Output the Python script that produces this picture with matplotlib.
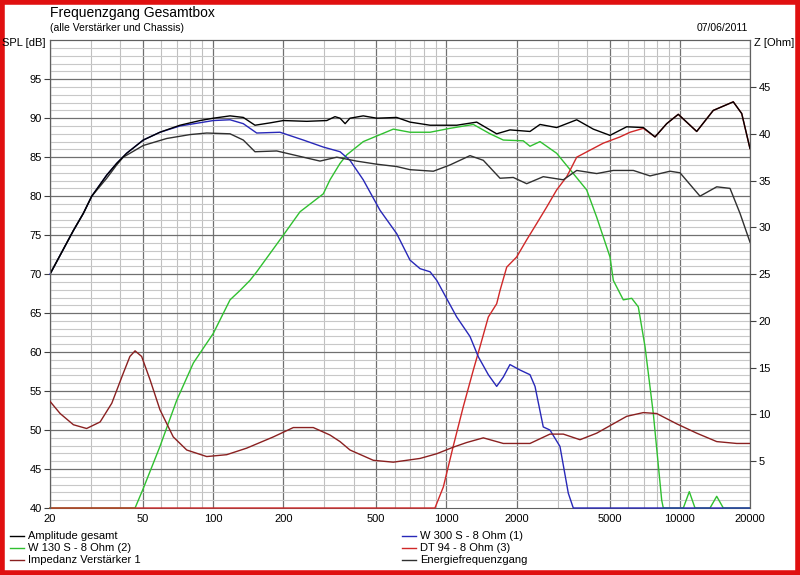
import matplotlib
matplotlib.use('Agg')
import matplotlib.pyplot as plt
import numpy as np
from matplotlib.patches import Rectangle
from matplotlib.lines import Line2D

plt.rcParams['font.family'] = ['Liberation Sans Narrow', 'Liberation Sans', 'DejaVu Sans']

# Amplitude gesamt (SPL dB)
f_amp = [20, 25.2, 27.8, 30.2, 35.0, 38.6, 42.6, 50.2, 59.2, 72.1, 87.9, 100.2, 118.2, 134.7, 151.2, 175.4,
         200, 252, 307, 333, 350, 368, 386, 440, 503, 612, 698, 851, 1107, 1348, 1642, 1872,
         2281, 2518, 2968, 3617, 4260, 5024, 5924, 6979, 7834, 8790, 9855, 11820, 13920,
         16960, 18430, 20000]
v_amp = [70.0, 75.6, 77.8, 80.0, 82.7, 84.2, 85.5, 87.2, 88.2, 89.1, 89.7, 90.0, 90.3, 90.1, 89.1, 89.4,
         89.7, 89.6, 89.7, 90.2, 90.0, 89.3, 90.0, 90.3, 90.0, 90.1, 89.5, 89.1, 89.1, 89.5, 88.0, 88.5,
         88.3, 89.2, 88.8, 89.8, 88.6, 87.8, 88.9, 88.8, 87.6, 89.3, 90.5, 88.3, 91.0,
         92.1, 90.6, 86.1]

# Energiefrequenzgang
f_energy = [20, 25.2, 27.8, 30.2, 35.0, 38.6, 41.2, 50.2, 63.3, 79.6, 93.9, 118.2, 134.7, 151.2, 187.4, 228.2,
            287.2, 338.8, 412, 503, 612, 698, 879, 1035, 1262, 1439, 1697, 1934, 2208, 2600, 3169,
            3617, 4406, 5191, 6324, 7456, 9082, 10024, 12210, 14400, 16420, 18120, 20000]
v_energy = [70.0, 75.6, 77.8, 80.0, 82.3, 84.0, 85.0, 86.5, 87.4, 87.9, 88.1, 88.0, 87.2, 85.7, 85.8, 85.2,
            84.5, 85.0, 84.5, 84.1, 83.8, 83.4, 83.2, 84.0, 85.2, 84.6, 82.3, 82.4, 81.6, 82.5, 82.1,
            83.3, 82.9, 83.3, 83.3, 82.6, 83.2, 83.0, 80.0, 81.2, 81.0, 77.8, 74.1]

# W 300 S - 8 Ohm (1)
f_w300 = [20, 25.2, 27.8, 30.2, 35.0, 38.6, 42.6, 50.2, 59.2, 72.1, 100.2, 118.2, 134.7, 153.8, 193.5, 243.6,
          296.7, 350, 386, 440, 519, 612, 698, 771, 851, 909, 1107, 1262, 1370, 1512, 1642, 1753,
          1872, 2067, 2281, 2397, 2600, 2778, 3066, 3329, 3497, 20000]
v_w300 = [70.0, 75.6, 77.8, 80.0, 82.7, 84.2, 85.5, 87.2, 88.2, 89.0, 89.7, 89.8, 89.3, 88.1, 88.2, 87.2,
          86.3, 85.7, 84.6, 82.1, 78.2, 75.2, 71.8, 70.7, 70.3, 69.2, 64.5, 62.0, 59.4, 57.1, 55.6, 56.8,
          58.4, 57.7, 57.1, 55.6, 50.4, 50.0, 47.9, 41.9, 40.0, 40.0]

# W 130 S - 8 Ohm (2)
f_w130 = [20, 46.3, 50.2, 59.2, 69.8, 82.3, 100.2, 118.2, 130.4, 143.9, 153.8, 200, 235.8, 296.7,
          317, 349.9, 373.9, 440.2, 592, 698, 851, 1035, 1304, 1538, 1753, 2135, 2281, 2518, 2968,
          3497, 3991, 4406, 5024, 5191, 5728, 6224, 6643, 7098, 7704, 8368, 8501, 10357, 10988,
          11623, 13480, 14400, 15370, 20000]
v_w130 = [40, 40, 42.5, 47.9, 53.8, 58.6, 62.4, 66.7, 67.9, 69.2, 70.3, 75.0, 78.0, 80.3,
          82.1, 84.2, 85.3, 87.0, 88.6, 88.2, 88.2, 88.7, 89.2, 88.0, 87.2, 87.1, 86.4, 87.0, 85.5,
          82.9, 80.8, 77.3, 72.2, 69.2, 66.7, 66.9, 65.8, 60.7, 52.1, 41.0, 40, 40, 42.1,
          40, 40, 41.5, 40, 40]

# DT 94 - 8 Ohm (3)
f_dt94 = [20, 893, 970, 1069, 1181, 1304, 1393, 1512, 1642, 1697, 1813, 2000, 2208, 2438, 2689,
          2968, 3277, 3385, 3617, 4124, 4702, 5545, 6120, 6979, 7834, 8790, 9855, 11820, 13920,
          16960, 18430, 20000]
v_dt94 = [40, 40, 42.7, 47.9, 53.0, 57.7, 60.7, 64.5, 66.2, 67.9, 70.9, 72.2, 74.4, 76.5, 78.6,
          80.8, 82.5, 83.3, 85.0, 85.9, 86.8, 87.6, 88.2, 88.7, 87.6, 89.3, 90.5, 88.3, 91.0,
          92.1, 90.6, 86.1]

# Impedanz Verstaerker 1 (Ohm, right axis)
f_imp = [20, 22.1, 25.2, 28.7, 32.8, 36.8, 41.2, 44.0, 46.3, 49.4, 53.7, 59.2, 67.5, 77.1, 93.9, 114.4,
         139.3, 181.2, 220.7, 268.8, 317, 349.9, 386.1, 486.1, 592, 770.9, 908.6, 1069, 1221, 1439,
         1753, 2281, 2778, 3169, 3736, 4406, 5191, 5924, 6979, 7965, 9702, 11820, 14400, 17540, 20000]
v_imp = [11.4, 10.1, 8.9, 8.5, 9.2, 11.2, 14.4, 16.2, 16.8, 16.2, 13.7, 10.5, 7.6, 6.2, 5.5, 5.7,
         6.4, 7.6, 8.6, 8.6, 7.8, 7.1, 6.2, 5.1, 4.9, 5.3, 5.8, 6.5, 7.0, 7.5,
         6.9, 6.9, 7.9, 7.9, 7.3, 8.0, 9.0, 9.8, 10.2, 10.1, 9.0, 8.0, 7.1, 6.9, 6.9]

x_ticks = [20, 50, 100, 200, 500, 1000, 2000, 5000, 10000, 20000]

c_amp = '#000000'
c_energy = '#303030'
c_w300 = '#2828b8'
c_w130 = '#30c030'
c_dt94 = '#d02828'
c_imp = '#8a2020'

fig = plt.figure(figsize=(8, 5.75), dpi=100)
ax = fig.add_axes([0.0625, 0.1165, 0.875, 0.8135])
ax2 = ax.twinx()

# grid
minor_f = []
for dec in [10, 100, 1000, 10000]:
    for m in range(1, 10):
        v = dec * m
        if 20 <= v <= 20000:
            minor_f.append(v)
for v in minor_f:
    if v in x_ticks:
        ax.axvline(v, color='#707070', linewidth=0.9, zorder=0)
    else:
        ax.axvline(v, color='#c0c0c0', linewidth=0.8, zorder=0)
for v in range(41, 100):
    if v % 5 == 0:
        ax.axhline(v, color='#707070', linewidth=0.9, zorder=0)
    else:
        ax.axhline(v, color='#c8c8c8', linewidth=0.8, zorder=0)

for a in [ax, ax2]:
    for s in a.spines.values():
        s.set_color('#606060')
        s.set_linewidth(0.8)
        s.set_zorder(1)
ax2.spines['bottom'].set_visible(False)
ax2.patch.set_visible(False)

ax.plot(f_w130, v_w130, color=c_w130, linewidth=1, zorder=3, clip_on=False)
ax.plot(f_dt94, v_dt94, color=c_dt94, linewidth=1, zorder=3, clip_on=False)
ax.plot(f_w300, v_w300, color=c_w300, linewidth=1, zorder=4, clip_on=False)
ax.plot(f_energy, v_energy, color=c_energy, linewidth=1, zorder=5)
ax.plot(f_amp, v_amp, color=c_amp, linewidth=1, zorder=6)
ax2.plot(f_imp, v_imp, color=c_imp, linewidth=1)

ax.set_xscale('log')
ax.set_xlim(20, 20000)
ax.set_ylim(40, 100)
ax2.set_ylim(0, 50)
ax.set_xticks(x_ticks)
ax.set_xticklabels([str(t) for t in x_ticks])
ax.xaxis.set_minor_locator(matplotlib.ticker.NullLocator())
ax.set_yticks(np.arange(40, 96, 5))
ax2.set_yticks(np.arange(5, 46, 5))
ax.tick_params(axis='both', labelsize=8, length=4, color='#404040', pad=2)
ax.tick_params(axis='x', length=0, pad=4)
ax2.tick_params(axis='y', labelsize=8, length=4, color='#404040', pad=2)

fig.text(50 / 800, 1 - 13 / 575, 'Frequenzgang Gesamtbox', fontsize=10, va='center', ha='left')
fig.text(50 / 800, 1 - 28 / 575, '(alle Verstärker und Chassis)', fontsize=7.5, va='center', ha='left')
fig.text(748 / 800, 1 - 28 / 575, '07/06/2011', fontsize=7.5, va='center', ha='right')
fig.text(46 / 800, 1 - 43 / 575, 'SPL [dB]', fontsize=8, va='center', ha='right')
fig.text(754 / 800, 1 - 43 / 575, 'Z [Ohm]', fontsize=8, va='center', ha='left')

# legend
legend_items = [
    ('Amplitude gesamt', c_amp, 10, 536),
    ('W 130 S - 8 Ohm (2)', c_w130, 10, 548),
    ('Impedanz Verstärker 1', c_imp, 10, 560),
    ('W 300 S - 8 Ohm (1)', c_w300, 402, 536),
    ('DT 94 - 8 Ohm (3)', c_dt94, 402, 548),
    ('Energiefrequenzgang', c_energy, 402, 560),
]
for label, col, lx, ly in legend_items:
    yy = 1 - ly / 575
    fig.add_artist(Line2D([lx / 800, (lx + 14) / 800], [yy, yy], color=col, linewidth=1))
    fig.text((lx + 18) / 800, yy, label, fontsize=8, va='center', ha='left')

fig.add_artist(Rectangle((0.002, 0.003), 0.996, 0.994, transform=fig.transFigure,
                         fill=False, edgecolor='#e01010', linewidth=4))

plt.savefig('out.png', dpi=100)
